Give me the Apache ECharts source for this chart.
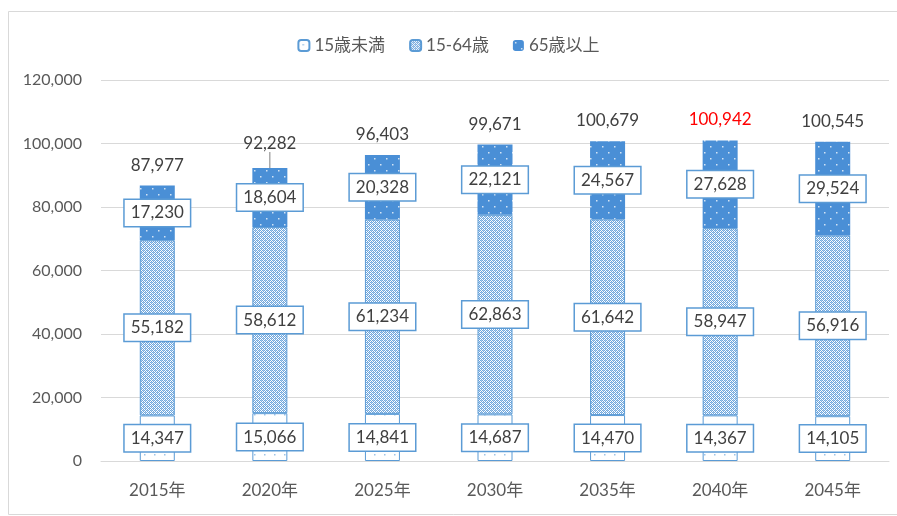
<!DOCTYPE html>
<html>
<head>
<meta charset="utf-8">
<script src="https://cdn.jsdelivr.net/npm/echarts@6/dist/echarts.min.js"></script>
<style>
html, body { margin: 0; padding: 0; background: #fff; }
#chart { width: 897px; height: 516px; }
</style>
</head>
<body>
<div id="chart"></div>
<script>
// data
var years = ['2015年', '2020年', '2025年', '2030年', '2035年', '2040年', '2045年'];
var under15 = [14347, 15066, 14841, 14687, 14470, 14367, 14105];
var age15to64 = [55182, 58612, 61234, 62863, 61642, 58947, 56916];
var over65 = [17230, 18604, 20328, 22121, 24567, 27628, 29524];
var totals = [87977, 92282, 96403, 99671, 100679, 100942, 100545];
var yTicks = [0, 20000, 40000, 60000, 80000, 100000, 120000];

var blue = '#5b9bd5';
var font = 'Lato, "Noto Sans CJK JP", sans-serif';

function makePattern(size, draw) {
    var c = document.createElement('canvas');
    c.width = size; c.height = size;
    draw(c.getContext('2d'));
    return { image: c, repeat: 'repeat' };
}

// 15歳未満: white with sparse dots
var patUnder = makePattern(10, function (ctx) {
    ctx.fillStyle = '#fff';
    ctx.fillRect(0, 0, 10, 10);
    ctx.fillStyle = '#9dc3e6';
    ctx.fillRect(4, 4, 1.5, 1.5);
});
// 15-64歳: fine crosshatch
var patMid = makePattern(4, function (ctx) {
    ctx.fillStyle = '#ffffff';
    ctx.fillRect(0, 0, 4, 4);
    ctx.fillStyle = '#6fa6dc';
    ctx.fillRect(0, 0, 1, 1);
    ctx.fillRect(2, 0, 1, 1);
    ctx.fillRect(1, 1, 1, 1);
    ctx.fillRect(3, 1, 1, 1);
    ctx.fillRect(0, 2, 1, 1);
    ctx.fillRect(2, 2, 1, 1);
    ctx.fillRect(1, 3, 1, 1);
    ctx.fillRect(3, 3, 1, 1);
    ctx.fillStyle = '#a9cbed';
    ctx.fillRect(1, 0, 1, 1);
    ctx.fillRect(3, 2, 1, 1);
});
// 65歳以上: solid blue with white dots
var patOld = makePattern(12, function (ctx) {
    ctx.fillStyle = '#4a8fd6';
    ctx.fillRect(0, 0, 12, 12);
    ctx.fillStyle = 'rgba(255,255,255,0.75)';
    ctx.fillRect(2, 2, 1.5, 1.5);
    ctx.fillRect(8, 8, 1.5, 1.5);
});

var boxLabel = {
    show: true,
    position: 'inside',
    backgroundColor: '#fff',
    borderColor: blue,
    borderWidth: 1.5,
    padding: [5, 6, 4, 6],
    color: '#404040',
    fontSize: 17,
    fontFamily: font,
    formatter: function (p) { return p.value.toLocaleString('en-US'); }
};

var chart = echarts.init(document.getElementById('chart'));
var option = {
    animation: false,
    backgroundColor: '#fff',
    graphic: [{
        type: 'rect',
        shape: { x: 8.5, y: 11.5, width: 900, height: 503 },
        style: { fill: 'none', stroke: '#d9d9d9', lineWidth: 1 },
        silent: true
    }],
    legend: {
        top: 32,
        left: 'center',
        itemWidth: 11,
        itemHeight: 11,
        itemGap: 24,
        data: ['15歳未満', '15-64歳', '65歳以上'],
        textStyle: { color: '#595959', fontSize: 17, fontFamily: font }
    },
    grid: { left: 101, right: 8, top: 80, bottom: 55 },
    xAxis: {
        type: 'category',
        data: years,
        axisLine: { lineStyle: { color: '#d9d9d9' } },
        axisTick: { show: false },
        axisLabel: { color: '#595959', fontSize: 17, fontFamily: font, margin: 21 }
    },
    yAxis: {
        type: 'value',
        min: yTicks[0],
        max: yTicks[yTicks.length - 1],
        interval: 20000,
        axisLine: { show: false },
        axisTick: { show: false },
        splitLine: { lineStyle: { color: '#d9d9d9' } },
        axisLabel: {
            color: '#595959', fontSize: 16, fontFamily: font, margin: 19,
            formatter: function (v) { return v.toLocaleString('en-US'); }
        }
    },
    series: [{
        name: '15歳未満',
        type: 'bar',
        stack: 'pop',
        barWidth: 35,
        itemStyle: { color: patUnder, borderColor: blue, borderWidth: 1 },
        label: boxLabel,
        data: under15
    }, {
        name: '15-64歳',
        type: 'bar',
        stack: 'pop',
        itemStyle: { color: patMid, borderColor: blue, borderWidth: 1 },
        label: boxLabel,
        data: age15to64
    }, {
        name: '65歳以上',
        type: 'bar',
        stack: 'pop',
        itemStyle: { color: patOld },
        label: boxLabel,
        data: over65
    }, {
        name: 'total',
        type: 'bar',
        stack: 'pop',
        silent: true,
        itemStyle: { color: 'transparent' },
        label: {
            show: true,
            position: 'top',
            distance: 12,
            fontSize: 17,
            fontFamily: font,
            color: '#404040',
            formatter: function (p) { return totals[p.dataIndex].toLocaleString('en-US'); }
        },
        labelLayout: function (p) {
            if (p.dataIndex === 1) return { dy: -4 };
        },
        labelLine: { show: false, lineStyle: { color: '#808080', width: 1 } },
        data: totals.map(function (t, i) {
            var d = { value: 0 };
            if (i === 5) d.label = { color: '#ff0000' };
            if (i === 1) d.labelLine = { show: true };
            return d;
        })
    }]
};
chart.setOption(option);
</script>
</body>
</html>
